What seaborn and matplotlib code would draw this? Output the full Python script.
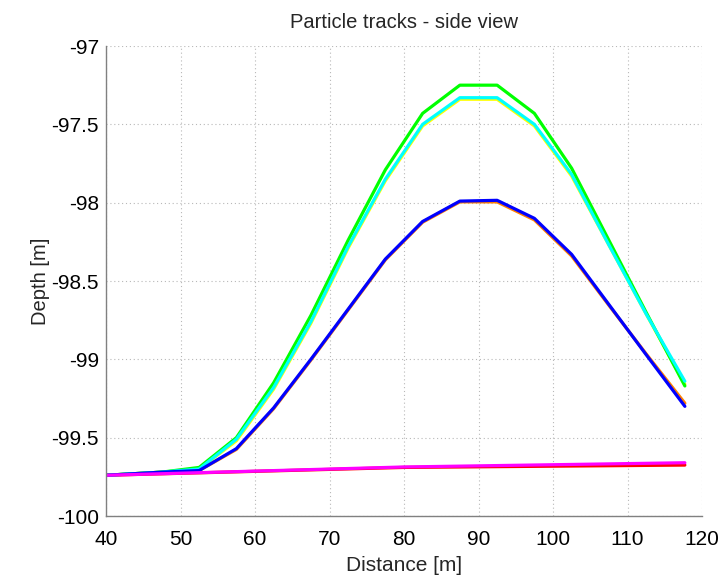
import matplotlib
matplotlib.use("Agg")
import matplotlib.pyplot as plt
import seaborn as sns
import pandas as pd
import numpy as np

# ---- data ----
x_pts = [40, 47.5, 52.5, 57.5, 62.5, 67.5, 72.5, 77.5, 82.5, 87.5, 92.5, 97.5, 102.5, 107.5, 112.5, 117.7]
red_x = [40, 80, 117.7]
red_y = [-99.74, -99.69, -99.675]
orange_y = [-99.74, -99.72, -99.71, -99.575, -99.315, -99.005, -98.685, -98.365, -98.125, -97.995, -97.995, -98.11, -98.34, -98.655, -98.965, -99.28]
yellow_y = [-99.74, -99.72, -99.70, -99.52, -99.19, -98.77, -98.29, -97.86, -97.51, -97.34, -97.34, -97.51, -97.83, -98.27, -98.71, -99.16]
green_y = [-99.74, -99.72, -99.69, -99.50, -99.15, -98.72, -98.24, -97.79, -97.43, -97.25, -97.25, -97.43, -97.78, -98.24, -98.70, -99.17]
cyan_y = [-99.74, -99.72, -99.70, -99.51, -99.18, -98.76, -98.28, -97.85, -97.50, -97.33, -97.33, -97.50, -97.82, -98.27, -98.71, -99.14]
blue_y = [-99.74, -99.72, -99.71, -99.57, -99.31, -99.00, -98.68, -98.36, -98.12, -97.99, -97.985, -98.10, -98.33, -98.65, -98.97, -99.30]
magenta_x = [40, 80, 117.7]
magenta_y = [-99.74, -99.687, -99.66]

series_names = ["red", "orange", "yellow", "green", "cyan", "blue", "magenta"]
series_colors = ["#ff0000", "#ff8000", "#ffff00", "#00ff00", "#00ffff", "#0000ff", "#ff00ff"]

x_ticks = [40, 50, 60, 70, 80, 90, 100, 110, 120]
y_ticks = [-100, -99.5, -99, -98.5, -98, -97.5, -97]
y_tick_labels = ["-100", "-99.5", "-99", "-98.5", "-98", "-97.5", "-97"]

rows = []
for name, xs, ys in [("red", red_x, red_y), ("orange", x_pts, orange_y),
                     ("yellow", x_pts, yellow_y), ("green", x_pts, green_y),
                     ("cyan", x_pts, cyan_y), ("blue", x_pts, blue_y),
                     ("magenta", magenta_x, magenta_y)]:
    for xv, yv in zip(xs, ys):
        rows.append({"track": name, "Distance": xv, "Depth": yv})
df = pd.DataFrame(rows)

sns.set_style("white")
plt.rcParams["font.family"] = ["Liberation Sans", "DejaVu Sans"]

fig = plt.figure(figsize=(7.22, 5.75), dpi=100)
ax = fig.add_axes([106 / 722, 1 - 516 / 575, (702 - 106) / 722, (516 - 46) / 575])

sns.lineplot(data=df, x="Distance", y="Depth", hue="track", hue_order=series_names,
             palette=dict(zip(series_names, series_colors)), linewidth=2.3,
             sort=False, estimator=None, legend=False, ax=ax)

ax.set_xlim(40, 120)
ax.set_ylim(-100, -97)
ax.set_xticks(x_ticks)
ax.set_xticklabels([str(t) for t in x_ticks])
ax.set_yticks(y_ticks)
ax.set_yticklabels(y_tick_labels)

ax.grid(True, linestyle=(0, (1, 2.5)), color="#b8b8b8", linewidth=0.8)
for s in ["top", "right"]:
    ax.spines[s].set_visible(False)
for s in ["left", "bottom"]:
    ax.spines[s].set_color("#808080")
    ax.spines[s].set_linewidth(1.0)

ax.tick_params(axis="both", direction="in", length=5, color="#808080",
               labelsize=15, labelcolor="black")
ax.tick_params(axis="x", pad=10)
ax.tick_params(axis="y", pad=5)

ax.set_xlabel("Distance [m]", fontsize=15, labelpad=5)
ax.set_ylabel("Depth [m]", fontsize=14.5, labelpad=1)
ax.set_title("Particle tracks - side view", fontsize=14.5, pad=13)

fig.savefig("out.png", dpi=100)
